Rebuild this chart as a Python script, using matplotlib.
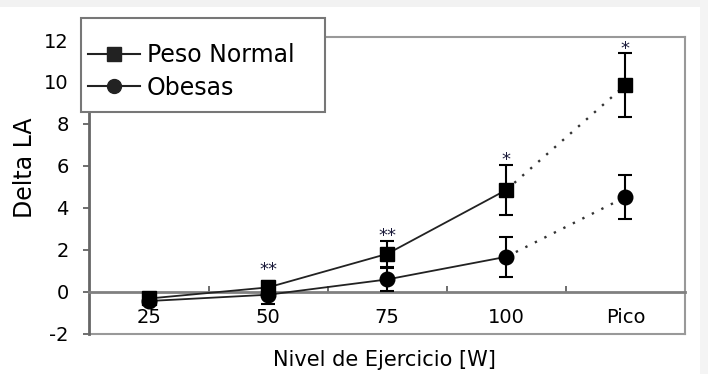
import matplotlib as mpl
mpl.use('Agg')
import matplotlib.pyplot as plt
from matplotlib.patches import Rectangle
from matplotlib.lines import Line2D

plt.rcParams['font.family'] = 'DejaVu Sans'
plt.rcParams['axes.unicode_minus'] = False

niveles = ['25', '50', '75', '100', 'Pico']
x = [0, 1, 2, 3, 4]

normal = [-0.33, 0.2, 1.8, 4.85, 9.85]
normal_err = [0.2, 0.3, 0.62, 1.21, 1.51]
obesas = [-0.45, -0.15, 0.58, 1.66, 4.51]
obesas_err = [0.15, 0.42, 0.55, 0.95, 1.07]

# asteriscos de significancia
sig_pos = [1, 2, 3, 4]
sig_txt = ['**', '**', '*', '*']
sig_y = [1.26, 2.88, 6.5, 11.77]

fig = plt.figure(figsize=(7.08, 3.74), dpi=100)
fig.patch.set_facecolor('white')
ax = fig.add_axes([89.5/708, 1-333.5/374, (685-89.5)/708, (333.5-36.7)/374])
ax.set_facecolor('white')

# franjas grises del fondo
fig.add_artist(Rectangle((0, 1-7/374), 1, 7/374, transform=fig.transFigure,
                         facecolor='#f2f2f2', edgecolor='none', zorder=-5))
fig.add_artist(Rectangle((700/708, 0), 8/708, 1, transform=fig.transFigure,
                         facecolor='#f4f4f4', edgecolor='none', zorder=-5))

# lineas continuas 25-100
ax.plot(x[:4], normal[:4], '-', color='#222222', lw=1.3, zorder=3)
ax.plot(x[:4], obesas[:4], '-', color='#222222', lw=1.3, zorder=3)
# lineas punteadas 100-Pico
ax.plot(x[3:], normal[3:], color='#333333', lw=1.7, ls=(0, (1, 3.5)), zorder=3)
ax.plot(x[3:], obesas[3:], color='#333333', lw=1.7, ls=(0, (1, 3.5)), zorder=3)

ax.errorbar(x, normal, yerr=normal_err, fmt='s', color='black', ms=10.5,
            elinewidth=1.5, capsize=5, capthick=1.5, zorder=4)
ax.errorbar(x, obesas, yerr=obesas_err, fmt='o', color='black', ms=10.5,
            elinewidth=1.5, capsize=5, capthick=1.5, zorder=4)

for xi, t, yi in zip(sig_pos, sig_txt, sig_y):
    ax.text(xi, yi - 0.22, t, ha='center', va='center', fontsize=13,
            color='#1a1a3a', zorder=5)

ax.set_xlim(-0.5, 4.5)
ax.set_ylim(-2, 12.16)

# ejes estilo Excel
ax.spines['bottom'].set_position(('data', 0))
ax.spines['bottom'].set_color('#808080')
ax.spines['bottom'].set_linewidth(2)
ax.spines['left'].set_color('#666666')
ax.spines['left'].set_linewidth(2)
for s in ['top', 'right']:
    ax.spines[s].set_color('#999999')
    ax.spines[s].set_linewidth(1.5)
ax.axhline(-2, color='#999999', lw=1.5, clip_on=False, zorder=2)

ax.set_xticks(x)
ax.set_xticklabels(niveles, fontsize=14)
ax.set_xticks([0.5, 1.5, 2.5, 3.5, 4.5], minor=True)
ax.tick_params(axis='x', which='major', length=0, pad=12)
ax.tick_params(axis='x', which='minor', direction='in', length=4, width=1.2,
               color='#555555')
ax.set_yticks(range(-2, 13, 2))
ax.tick_params(axis='y', labelsize=14, length=4, width=1.2, pad=11,
               color='#555555')

fig.text(384.5/708, 1-360/374, 'Nivel de Ejercicio [W]', fontsize=15,
         ha='center', va='center')
fig.text(25/708, 0.552, 'Delta LA', fontsize=17, rotation=90,
         ha='center', va='center')

# leyenda con marco propio
fig.add_artist(Rectangle((81/708, 1-112/374), 244/708, 94/374,
                         transform=fig.transFigure, facecolor='white',
                         edgecolor='#777777', lw=1.5, zorder=10))
handles = [Line2D([], [], color='#222222', lw=1.5, marker='s', ms=10),
           Line2D([], [], color='#222222', lw=1.5, marker='o', ms=10)]
leg = fig.legend(handles, ['Peso Normal', 'Obesas'], loc='upper left',
                 bbox_to_anchor=(88/708, 1-43/374), frameon=False,
                 fontsize=17, handlelength=2.2, handletextpad=0.3,
                 labelspacing=0.37, borderpad=0, borderaxespad=0)
leg.set_zorder(11)

fig.savefig('out.png', dpi=100)
